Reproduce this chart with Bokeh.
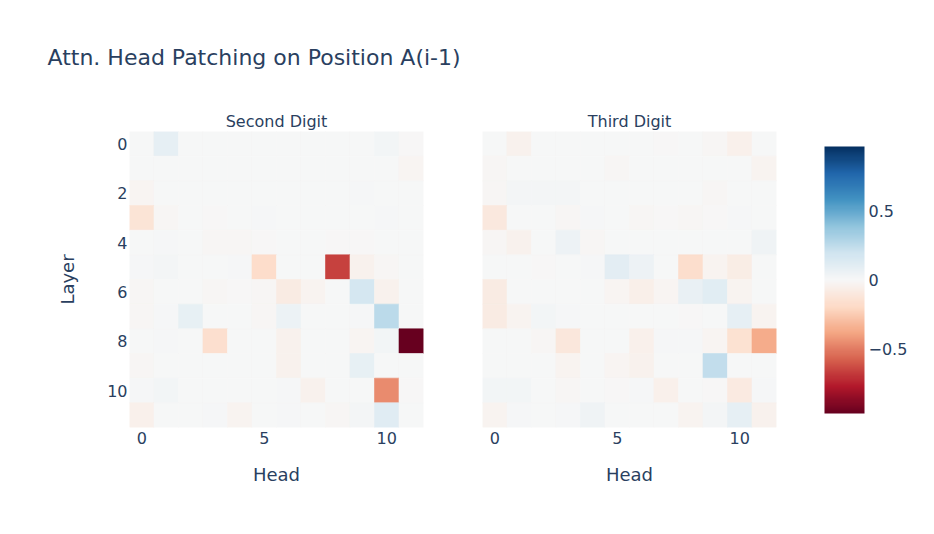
import numpy as np
from bokeh.plotting import figure
from bokeh.models import ColumnDataSource, LinearColorMapper, ColorBar, FixedTicker, Range1d, Title
from bokeh.layouts import row
from bokeh.embed import file_html
from bokeh.resources import INLINE

heads = list(range(12))
layers = list(range(12))

second_digit = [
    [0.00, 0.09, 0.00, 0.00, 0.00, 0.00, 0.00, 0.00, 0.00, 0.00, 0.03, -0.005],
    [0.00, 0.00, 0.00, 0.00, 0.00, 0.00, 0.00, 0.00, 0.00, 0.00, 0.00, -0.02],
    [-0.02, 0.00, 0.00, 0.00, 0.00, 0.00, 0.00, 0.00, 0.00, 0.01, 0.00, 0.00],
    [-0.13, -0.01, 0.005, -0.005, 0.005, 0.01, 0.00, 0.00, 0.00, 0.00, 0.01, 0.005],
    [0.00, 0.01, 0.005, -0.015, -0.015, -0.005, 0.00, 0.00, -0.005, -0.005, 0.00, 0.00],
    [0.015, 0.02, 0.00, 0.00, 0.01, -0.18, 0.00, 0.00, -0.66, -0.04, -0.01, 0.00],
    [-0.015, 0.00, 0.00, -0.01, -0.005, -0.01, -0.08, -0.03, 0.00, 0.17, -0.04, 0.00],
    [-0.01, 0.015, 0.08, 0.005, 0.00, -0.01, 0.06, 0.00, 0.00, 0.01, 0.26, 0.00],
    [0.00, 0.01, 0.00, -0.16, 0.00, 0.00, -0.04, 0.00, 0.00, -0.02, 0.03, -0.97],
    [-0.01, 0.00, 0.00, 0.00, 0.00, 0.005, -0.04, 0.00, 0.00, 0.08, 0.00, 0.00],
    [0.015, 0.03, 0.00, 0.00, 0.00, 0.00, 0.015, -0.04, 0.00, 0.00, -0.46, -0.005],
    [-0.05, 0.00, 0.005, 0.01, -0.03, 0.00, 0.01, 0.00, -0.01, 0.02, 0.12, 0.00],
]

third_digit = [
    [0.00, -0.04, 0.00, 0.00, 0.00, 0.00, 0.00, -0.005, 0.00, -0.015, -0.05, 0.00],
    [-0.015, 0.005, 0.00, 0.00, 0.00, -0.01, 0.00, 0.005, 0.005, 0.00, 0.00, -0.03],
    [-0.015, 0.02, 0.02, 0.02, 0.00, 0.00, 0.00, 0.005, 0.005, -0.01, 0.00, 0.00],
    [-0.10, 0.00, 0.00, -0.015, 0.015, 0.00, -0.01, -0.005, -0.015, -0.005, 0.01, 0.005],
    [-0.015, -0.04, 0.00, 0.05, -0.01, 0.00, 0.00, 0.005, 0.005, 0.005, 0.00, 0.04],
    [0.00, 0.00, -0.005, 0.00, 0.01, 0.10, 0.05, 0.00, -0.17, -0.03, -0.07, 0.00],
    [-0.08, 0.00, 0.00, 0.00, 0.00, -0.02, -0.06, -0.02, 0.07, 0.11, -0.03, 0.005],
    [-0.08, -0.025, 0.03, 0.015, 0.00, 0.00, 0.00, 0.00, -0.005, 0.00, 0.09, -0.03],
    [0.00, 0.00, -0.01, -0.11, 0.00, 0.00, -0.05, 0.015, 0.015, -0.02, -0.15, -0.36],
    [0.005, 0.00, 0.00, -0.03, 0.00, -0.02, -0.04, 0.00, 0.00, 0.24, 0.00, 0.00],
    [0.03, 0.03, 0.00, -0.01, 0.00, -0.005, 0.01, -0.05, 0.00, -0.005, -0.09, 0.01],
    [-0.03, 0.01, 0.005, 0.01, 0.04, 0.00, 0.00, 0.00, -0.03, 0.02, 0.09, -0.04],
]

x_ticks = [0, 5, 10]
y_ticks = [0, 2, 4, 6, 8, 10]
cbar_ticks = [-0.5, 0, 0.5]
cbar_labels = ["\u22120.5", "0", "0.5"]
z_limit = 0.97

main_title = "Attn. Head Patching on Position A(i-1)"
panel_titles = ["Second Digit", "Third Digit"]
x_label = "Head"
y_label = "Layer"

# RdBu colour scale (red = negative, blue = positive)
anchors = ['#67001f', '#b2182b', '#d6604d', '#f4a582', '#fddbc7', '#f7f7f7',
           '#d1e5f0', '#92c5de', '#4393c3', '#2166ac', '#053061']
def _rgb(h):
    return np.array([int(h[i:i + 2], 16) for i in (1, 3, 5)], dtype=float)
anc = np.array([_rgb(h) for h in anchors])
pos = np.linspace(0, 1, len(anchors))
palette = []
for t in np.linspace(0, 1, 256):
    c = [np.interp(t, pos, anc[:, k]) for k in range(3)]
    palette.append('#%02x%02x%02x' % tuple(int(round(v)) for v in c))

mapper = LinearColorMapper(palette=palette, low=-z_limit, high=z_limit)

FONT = "DejaVu Sans"
TC = "#2a3f5f"


def make_panel(values, title, left, right, show_y):
    xs, ys, vs = [], [], []
    for li, layer in enumerate(layers):
        for hi, head in enumerate(heads):
            xs.append(head)
            ys.append(layer)
            vs.append(values[li][hi])
    src = ColumnDataSource(dict(x=xs, y=ys, v=vs))
    p = figure(frame_width=294, frame_height=296,
               x_range=Range1d(-0.5, 11.5), y_range=Range1d(11.5, -0.5),
               output_backend="svg", toolbar_location=None,
               min_border_left=left, min_border_right=right,
               min_border_top=131, min_border_bottom=80,
               background_fill_color="white", border_fill_color="white",
               outline_line_color=None)
    p.rect(x="x", y="y", width=1, height=1, source=src,
           fill_color={"field": "v", "transform": mapper},
           line_color={"field": "v", "transform": mapper}, line_width=0.6)
    p.grid.visible = False
    p.title.text = ""
    p.add_layout(Title(text=title, align="center", text_font=FONT,
                       text_font_size="16px", text_font_style="normal",
                       text_color=TC, standoff=1), "above")
    for ax in (p.xaxis[0], p.yaxis[0]):
        ax.axis_line_color = None
        ax.major_tick_line_color = None
        ax.minor_tick_line_color = None
        ax.major_tick_out = 0
        ax.major_tick_in = 0
        ax.minor_tick_out = 0
        ax.major_label_text_font = FONT
        ax.major_label_text_font_size = "16px"
        ax.major_label_text_color = TC
        ax.axis_label_text_font = FONT
        ax.axis_label_text_font_size = "18px"
        ax.axis_label_text_font_style = "normal"
        ax.axis_label_text_color = TC
    p.xaxis.ticker = FixedTicker(ticks=x_ticks)
    p.xaxis.axis_label = x_label
    p.xaxis.major_label_standoff = 4
    p.xaxis.axis_label_standoff = 17
    p.yaxis.ticker = FixedTicker(ticks=y_ticks)
    p.yaxis.major_label_standoff = 2
    if show_y:
        p.yaxis.axis_label = y_label
        p.yaxis.axis_label_standoff = 26
    else:
        p.yaxis.visible = False
    return p


p1 = make_panel(second_digit, panel_titles[0], 129, 59, True)
p2 = make_panel(third_digit, panel_titles[1], 0, 140, False)

p1.title.text = main_title
p1.title.text_font = FONT
p1.title.text_font_size = "22px"
p1.title.text_font_style = "normal"
p1.title.text_color = TC
p1.title.align = "left"
p1.title.offset = -82
p1.title.standoff = 80

cb = ColorBar(color_mapper=mapper, width=40, height=267, padding=0, margin=0,
              location=(48, 14),
              ticker=FixedTicker(ticks=cbar_ticks),
              major_label_overrides={t: s for t, s in zip(cbar_ticks, cbar_labels)},
              major_tick_line_color=None, minor_tick_line_color=None,
              major_tick_out=0, major_tick_in=0,
              bar_line_color=None, border_line_color=None,
              background_fill_color=None, label_standoff=4,
              major_label_text_font=FONT, major_label_text_font_size="16px",
              major_label_text_color=TC)
p2.add_layout(cb, "right")

layout = row(p1, p2, spacing=0)
open("out.html", "w").write(file_html(layout, INLINE))
